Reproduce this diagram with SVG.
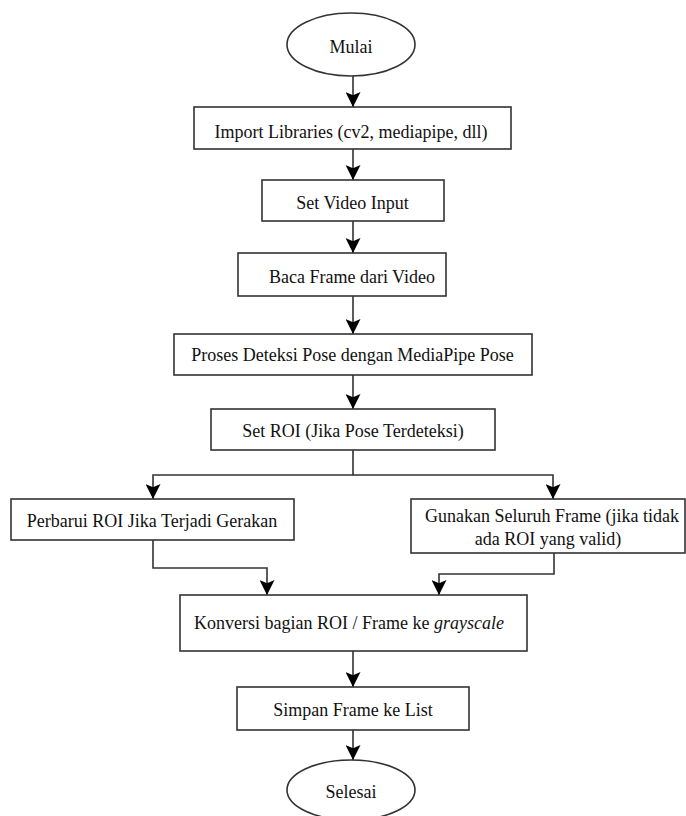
<svg xmlns="http://www.w3.org/2000/svg" width="686" height="816" viewBox="0 0 686 816">
<style>
.box{fill:#fff;stroke:#333;stroke-width:1.6}
.t{font-family:"Liberation Serif","Times New Roman",serif;font-size:18px;fill:#111;text-anchor:middle}
.c{fill:none;stroke:#333;stroke-width:1.6}
</style>
<defs>
<marker id="ah" markerUnits="userSpaceOnUse" viewBox="0 0 14 14" refX="14" refY="7" markerWidth="15" markerHeight="15" orient="auto">
<path d="M0,0 L14,7 L0,14 L3,7 z" fill="#000"/>
</marker>
</defs>
<rect width="686" height="816" fill="#fff"/>
<g id="connectors">
<path class="c" d="M353,76 V107" marker-end="url(#ah)"/>
<path class="c" d="M353,149 V180" marker-end="url(#ah)"/>
<path class="c" d="M353,221 V253" marker-end="url(#ah)"/>
<path class="c" d="M353,296 V334" marker-end="url(#ah)"/>
<path class="c" d="M353,375 V409" marker-end="url(#ah)"/>
<path class="c" d="M353,450 V475 H153 V499" marker-end="url(#ah)"/>
<path class="c" d="M353,475 H553 V499" marker-end="url(#ah)"/>
<path class="c" d="M153,540 V568 H267 V595" marker-end="url(#ah)"/>
<path class="c" d="M554,553 V574 H439 V595" marker-end="url(#ah)"/>
<path class="c" d="M353,651 V687" marker-end="url(#ah)"/>
<path class="c" d="M353,730 V760" marker-end="url(#ah)"/>
</g>
<g id="mulai">
<ellipse class="box" cx="351" cy="44.5" rx="64" ry="31.5"/>
<text class="t" x="351" y="53">Mulai</text>
</g>
<g id="import">
<rect class="box" x="194" y="107" width="317" height="42"/>
<text class="t" x="351" y="138">Import Libraries (cv2, mediapipe, dll)</text>
</g>
<g id="setvideo">
<rect class="box" x="262" y="180" width="182" height="41"/>
<text class="t" x="352.5" y="209">Set Video Input</text>
</g>
<g id="baca">
<rect class="box" x="238" y="253" width="208" height="43"/>
<text class="t" x="352" y="283">Baca Frame dari Video</text>
</g>
<g id="proses">
<rect class="box" x="174" y="334" width="358" height="41"/>
<text class="t" x="352.5" y="361">Proses Deteksi Pose dengan MediaPipe Pose</text>
</g>
<g id="setroi">
<rect class="box" x="211" y="409" width="284" height="41"/>
<text class="t" x="353" y="437">Set ROI (Jika Pose Terdeteksi)</text>
</g>
<g id="perbarui">
<rect class="box" x="11" y="499" width="283" height="41"/>
<text class="t" x="152" y="527">Perbarui ROI Jika Terjadi Gerakan</text>
</g>
<g id="gunakan">
<rect class="box" x="411" y="499" width="274" height="54"/>
<text class="t" x="552" y="522">Gunakan Seluruh Frame (jika tidak</text>
<text class="t" x="548" y="545">ada ROI yang valid)</text>
</g>
<g id="konversi">
<rect class="box" x="180" y="595" width="347" height="56"/>
<text class="t" x="349" y="629">Konversi bagian ROI / Frame ke <tspan font-style="italic">grayscale</tspan></text>
</g>
<g id="simpan">
<rect class="box" x="237" y="687" width="232" height="43"/>
<text class="t" x="353" y="716">Simpan Frame ke List</text>
</g>
<g id="selesai">
<ellipse class="box" cx="351" cy="790" rx="64" ry="30"/>
<text class="t" x="351" y="798">Selesai</text>
</g>
</svg>
